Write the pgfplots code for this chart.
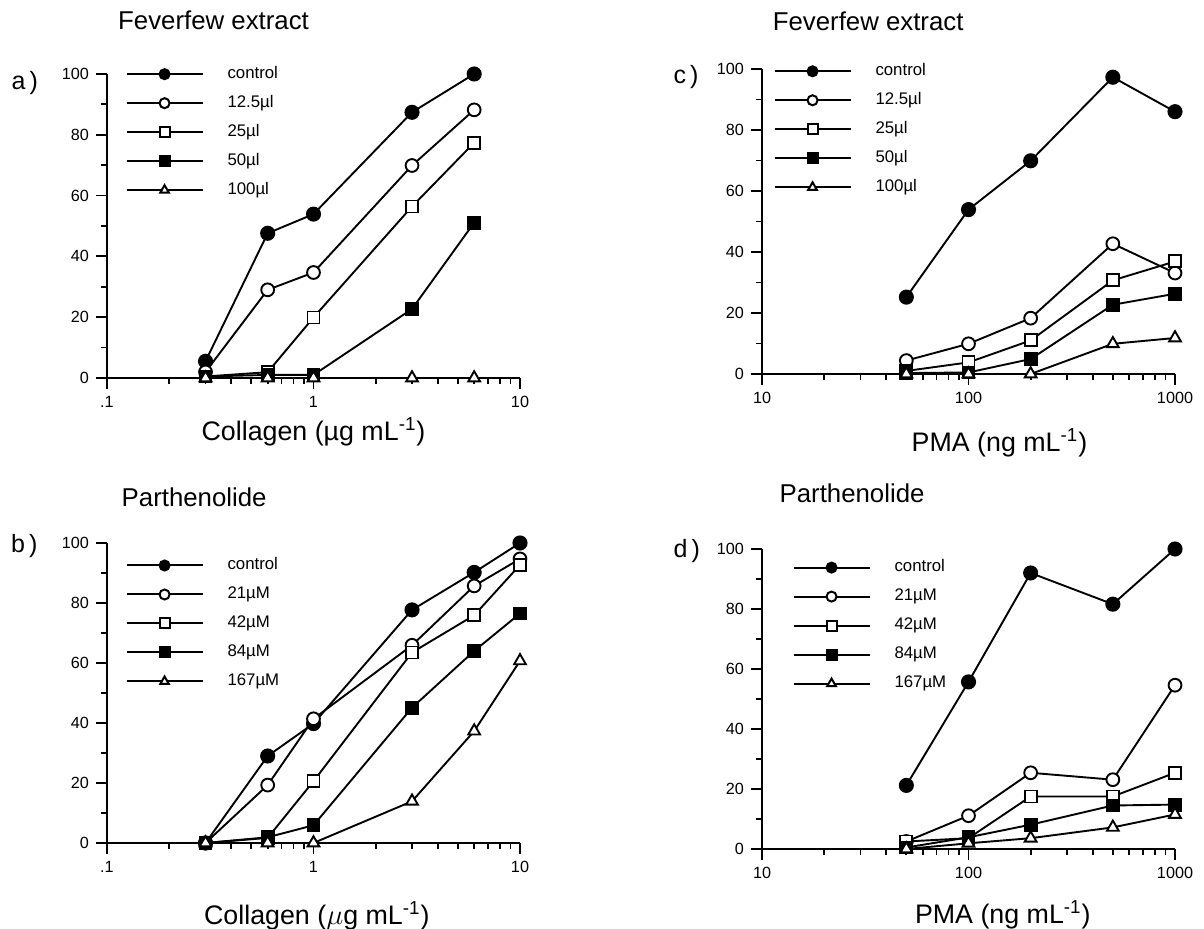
\documentclass[border=0pt]{standalone}
\usepackage{fontspec}
\setmainfont{Liberation Sans}
\usepackage{pgfplots}
\pgfplotsset{compat=1.18}
\tikzset{
  plab/.style={font=\fontsize{12.5}{14}\selectfont},
  ptitle/.style={font=\fontsize{12.9}{15}\selectfont, anchor=center},
}

% marker styles
\pgfplotsset{
  sctrl/.style={mark=*, mark size=3.3pt},
  sopen/.style={mark=*, mark size=3.2pt, mark options={fill=white}},
  ssq/.style={mark=square*, mark size=3pt, mark options={fill=white}},
  sfsq/.style={mark=square*, mark size=3pt},
  stri/.style={mark=triangle*, mark size=3.4pt, mark options={fill=white}},
  panel/.style={
    width=206.5pt, scale only axis,
    axis lines=left, axis line style={line width=1.1pt, -},
    ymin=0, ymax=100, ytick={0,20,...,100}, minor y tick num=1,
    tick align=outside, tick style={line width=0.9pt, black},
    major tick length=5.5pt, minor tick length=3pt,
    tick label style={font=\fontsize{8.1}{9}\selectfont},
    /pgf/number format/assume math mode=true,
    clip=false,
    every axis plot/.append style={black, line width=0.95pt},
    legend cell align=left,
    legend style={draw=none, fill=none, inner sep=0pt,
      font=\fontsize{8.4}{9}\selectfont, row sep=6.5pt,
      nodes={inner sep=0pt, text height=6.2pt, text depth=1.8pt}},
    legend image code/.code={
      \draw[mark repeat=2, mark phase=2, mark size=2.5pt, line width=1pt]
        plot coordinates {(0pt,0pt) (19pt,0pt) (38pt,0pt)};
      \path (50pt,0pt);},
    xlabel style={font=\fontsize{13.4}{15}\selectfont, anchor=center},
  },
}

\begin{document}
\begin{tikzpicture}
\useasboundingbox (0,0) rectangle (602pt,464.5pt);

% a) Feverfew extract, collagen
\begin{semilogxaxis}[panel, height=152pt,
  at={(53.5pt,275.5pt)}, anchor=south west,
  xmin=0.1, xmax=10, xtick={0.1,1,10}, xticklabels={.1,1,10},
  xlabel={Collagen (µg mL\textsuperscript{-1})},
  xlabel style={at={(axis description cs:0.5,-0.177)}},
  legend style={at={(axis description cs:0.044,1.027)}, anchor=north west},
]
\addplot[sctrl] coordinates {(0.3,5.5) (0.6,47.6) (1,53.9) (3,87.4) (6,100)};
\addlegendentry{control}
\addplot[sopen] coordinates {(0.3,2) (0.6,29) (1,34.7) (3,69.9) (6,88.2)};
\addlegendentry{12.5µl}
\addplot[ssq] coordinates {(0.3,0.5) (0.6,1.9) (1,19.9) (3,56.4) (6,77.4)};
\addlegendentry{25µl}
\addplot[sfsq] coordinates {(0.3,0.5) (0.6,1) (1,1) (3,22.7) (6,51.1)};
\addlegendentry{50µl}
\addplot[stri] coordinates {(0.3,0) (0.6,0) (1,0) (3,0) (6,0)};
\addlegendentry{100µl}
\node[ptitle] at (axis description cs:0.258,1.178) {Feverfew extract};
\node[plab] at (axis description cs:-0.199,0.970) {a\,)};
\end{semilogxaxis}

% c) Feverfew extract, PMA
\begin{semilogxaxis}[panel, height=152.5pt,
  at={(381pt,277.5pt)}, anchor=south west,
  xmin=10, xmax=1000, xtick={10,100,1000}, xticklabels={10,100,1000},
  xlabel={PMA (ng mL\textsuperscript{-1})},
  xlabel style={at={(axis description cs:0.575,-0.226)}},
  legend style={at={(axis description cs:0.027,1.02)}, anchor=north west},
]
\addplot[sctrl] coordinates {(50,25.2) (100,53.9) (200,69.9) (500,97.3) (1000,86)};
\addlegendentry{control}
\addplot[sopen] coordinates {(50,4.4) (100,9.9) (200,18.3) (500,42.7) (1000,33.1)};
\addlegendentry{12.5µl}
\addplot[ssq] coordinates {(50,1) (100,3.8) (200,11) (500,30.7) (1000,36.9)};
\addlegendentry{25µl}
\addplot[sfsq] coordinates {(50,0.3) (100,0.5) (200,4.9) (500,22.7) (1000,26.3)};
\addlegendentry{50µl}
\addplot[stri] coordinates {(50,0) (100,0) (200,0) (500,9.9) (1000,11.8)};
\addlegendentry{100µl}
\node[ptitle] at (axis description cs:0.257,1.157) {Feverfew extract};
\node[plab] at (axis description cs:-0.184,0.974) {c\,)};
\end{semilogxaxis}

% b) Parthenolide, collagen
\begin{semilogxaxis}[panel, height=150pt,
  at={(53.5pt,43pt)}, anchor=south west,
  xmin=0.1, xmax=10, xtick={0.1,1,10}, xticklabels={.1,1,10},
  xlabel={Collagen ($\mu$g mL\textsuperscript{-1})},
  xlabel style={at={(axis description cs:0.508,-0.243)}},
  legend style={at={(axis description cs:0.044,0.953)}, anchor=north west},
]
\addplot[sctrl] coordinates {(0.3,0) (0.6,29) (1,39.8) (3,77.7) (6,90.2) (10,100)};
\addlegendentry{control}
\addplot[sopen] coordinates {(0.3,0) (0.6,19.3) (1,41.4) (3,65.9) (6,85.7) (10,94.7)};
\addlegendentry{21µM}
\addplot[ssq] coordinates {(0.3,0) (0.6,1.7) (1,20.6) (3,63.5) (6,75.9) (10,92.7)};
\addlegendentry{42µM}
\addplot[sfsq] coordinates {(0.3,0) (0.6,1.9) (1,5.9) (3,45.1) (6,64) (10,76.5)};
\addlegendentry{84µM}
\addplot[stri] coordinates {(0.3,0) (0.6,0) (1,0) (3,13.9) (6,37.3) (10,60.7)};
\addlegendentry{167µM}
\node[ptitle] at (axis description cs:0.211,1.153) {Parthenolide};
\node[plab] at (axis description cs:-0.2,0.99) {b\,)};
\end{semilogxaxis}

% d) Parthenolide, PMA
\begin{semilogxaxis}[panel, height=150pt,
  at={(381pt,40pt)}, anchor=south west,
  xmin=10, xmax=1000, xtick={10,100,1000}, xticklabels={10,100,1000},
  xlabel={PMA (ng mL\textsuperscript{-1})},
  xlabel style={at={(axis description cs:0.583,-0.22)}},
  legend style={at={(axis description cs:0.073,0.966)}, anchor=north west},
]
\addplot[sctrl] coordinates {(50,21.2) (100,55.7) (200,92) (500,81.6) (1000,100)};
\addlegendentry{control}
\addplot[sopen] coordinates {(50,2.5) (100,11.1) (200,25.4) (500,23.1) (1000,54.6)};
\addlegendentry{21µM}
\addplot[ssq] coordinates {(50,2.5) (100,3.6) (200,17.5) (500,17.5) (1000,25.4)};
\addlegendentry{42µM}
\addplot[sfsq] coordinates {(50,0.5) (100,3.9) (200,8.1) (500,14.5) (1000,14.8)};
\addlegendentry{84µM}
\addplot[stri] coordinates {(50,0) (100,1.9) (200,3.6) (500,7.2) (1000,11.5)};
\addlegendentry{167µM}
\node[ptitle] at (axis description cs:0.218,1.185) {Parthenolide};
\node[plab] at (axis description cs:-0.182,0.993) {d\,)};
\end{semilogxaxis}
\end{tikzpicture}
\end{document}
